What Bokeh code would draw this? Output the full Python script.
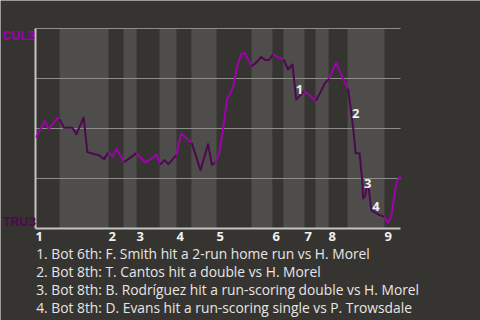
from bokeh.plotting import figure
from bokeh.models import Range1d, Label
from bokeh.embed import file_html
from bokeh.resources import INLINE

# game progress (%) and CUL3 win probability (%)
prog = [0.2, 2.5, 3.6, 6.1, 6.6, 7.8, 10.1, 11.2, 13.2, 14.2, 15.5, 17.3, 18.8, 20.0,
        21.1, 22.2, 24.3, 27.7, 30.1, 31.8, 33.2, 34.1, 35.4, 36.4, 38.6, 39.9, 42.8,
        45.2, 47.3, 48.3, 49.2, 50.4, 51.4, 52.5, 54.2, 55.2, 56.4, 57.3, 59.2, 60.7,
        61.8, 63.0, 63.9, 65.1, 66.2, 68.0, 69.2, 70.4, 71.0, 71.4, 72.6, 73.5, 74.7,
        76.8, 78.1, 79.3, 80.4, 82.4, 83.6, 84.5, 85.6, 86.3, 87.0, 87.7, 88.8, 89.5,
        89.8, 90.4, 90.7, 91.3, 92.0, 92.7, 94.3, 95.5, 96.6, 97.5, 98.4, 98.9, 100.0]
wp = [45.5, 53.9, 49.7, 55.4, 54.7, 50.4, 50.4, 47.2, 55.5, 38.2, 37.5, 36.7, 34.7, 38.2,
      35.9, 39.7, 33.2, 37.7, 32.9, 34.9, 37.0, 32.0, 34.2, 32.2, 36.7, 47.5, 42.8,
      29.2, 42.2, 31.9, 32.9, 37.7, 50.0, 64.5, 70.8, 80.7, 87.2, 87.8, 81.2, 83.3,
      85.8, 84.2, 84.2, 87.0, 85.8, 84.5, 79.5, 82.0, 71.7, 64.5, 66.7, 68.8, 67.2,
      63.9, 68.3, 72.7, 74.8, 83.0, 77.5, 74.2, 69.9, 60.8, 50.8, 37.8, 37.5, 24.2,
      15.0, 16.7, 21.2, 20.0, 9.2, 8.3, 6.7, 5.9, 2.8, 6.2, 17.5, 23.3, 26.2]

inning_start = [0, 20.0, 27.7, 38.6, 49.6, 64.9, 73.7, 80.3, 95.6]
bottom_start = [6.6, 24.1, 34.0, 42.7, 59.2, 67.9, 76.7, 85.5]
inning_names = ["1", "2", "3", "4", "5", "6", "7", "8", "9"]
grid_levels = [25, 50, 75, 100]

ann_names = ["1", "2", "3", "4"]
ann_x = [72.3, 87.7, 91.0, 93.3]
ann_y = [69.4, 57.4, 22.4, 11.0]
notes = [
    "1. Bot 6th: F. Smith hit a 2-run home run vs H. Morel",
    "2. Bot 8th: T. Cantos hit a double vs H. Morel",
    "3. Bot 8th: B. Rodríguez hit a run-scoring double vs H. Morel",
    "4. Bot 8th: D. Evans hit a run-scoring single vs P. Trowsdale",
]
team_top, team_bottom = "CUL3", "TRU3"

BG = "#363430"
BAND = "#4e4d4b"
MAG = "#a000ae"
DARK = "#4c0a4e"
FONT = "Open Sans"
TEAM_FONT = "Roboto"

# the figure frame covers the whole canvas; the chart area is 0..100 x 0..100
p = figure(width=480, height=320, x_range=Range1d(-35 / 3.65, 445 / 3.65),
           y_range=Range1d(-46, 114), output_backend="svg", toolbar_location=None,
           min_border=0, min_border_left=0, min_border_right=0,
           min_border_top=0, min_border_bottom=0)
p.background_fill_color = BG
p.border_fill_color = BG
p.outline_line_color = None
p.axis.visible = False
p.grid.visible = False

# bottom-half bands
bottom_end = inning_start[1:]
p.quad(left=bottom_start, right=bottom_end, bottom=0, top=100, fill_color=BAND,
       line_color=None)

# grid lines and axis lines
p.segment(x0=[0] * len(grid_levels), x1=[100] * len(grid_levels), y0=grid_levels,
          y1=grid_levels, line_color="#8e8d8b", line_width=1)
p.segment(x0=[0, 0], y0=[0, 0], x1=[0, 100], y1=[100, 0], line_color="#c4c4c4",
          line_width=2)

# colour each segment by half-inning
def is_bottom(x):
    for a, b in zip(bottom_start, bottom_end):
        if a <= x < b:
            return True
    return False

xs, ys, cols = [], [], []
cur_x, cur_y, cur_c = [prog[0]], [wp[0]], None
for i in range(1, len(prog)):
    mid = (prog[i - 1] + prog[i]) / 2
    c = DARK if is_bottom(mid) else MAG
    if cur_c is None:
        cur_c = c
    if c != cur_c:
        xs.append(cur_x); ys.append(cur_y); cols.append(cur_c)
        cur_x, cur_y, cur_c = [prog[i - 1]], [wp[i - 1]], c
    cur_x.append(prog[i]); cur_y.append(wp[i])
xs.append(cur_x); ys.append(cur_y); cols.append(cur_c)
p.multi_line(xs=xs, ys=ys, line_color=cols, line_width=2, line_join="round")

for n, x, y in zip(ann_names, ann_x, ann_y):
    p.add_layout(Label(x=x, y=y, text=n, text_align="center", text_baseline="middle",
                       text_color="#f0f0f0", text_font=FONT, text_font_style="bold",
                       text_font_size="13px"))

for n, x in zip(inning_names, inning_start):
    p.add_layout(Label(x=x, y=-3.8, text=n, text_align="left", text_baseline="middle",
                       text_color="#f0f0f0", text_font=FONT, text_font_style="bold",
                       text_font_size="13px"))

p.add_layout(Label(x=-9.05, y=96.7, text=team_top, text_align="left", text_baseline="middle",
                   text_color=MAG, text_font=TEAM_FONT, text_font_style="bold",
                   text_font_size="13.5px"))
p.add_layout(Label(x=-9.05, y=3.7, text=team_bottom, text_align="left", text_baseline="middle",
                   text_color=DARK, text_font=TEAM_FONT, text_font_style="bold",
                   text_font_size="13.5px"))

for i, t in enumerate(notes):
    p.add_layout(Label(x=0.2, y=-12.5 - 8.95 * i, text=t, text_align="left",
                       text_baseline="middle", text_color="#e6e6e6", text_font=FONT,
                       text_font_size="13.8px"))

open("out.html", "w").write(file_html(p, INLINE))
